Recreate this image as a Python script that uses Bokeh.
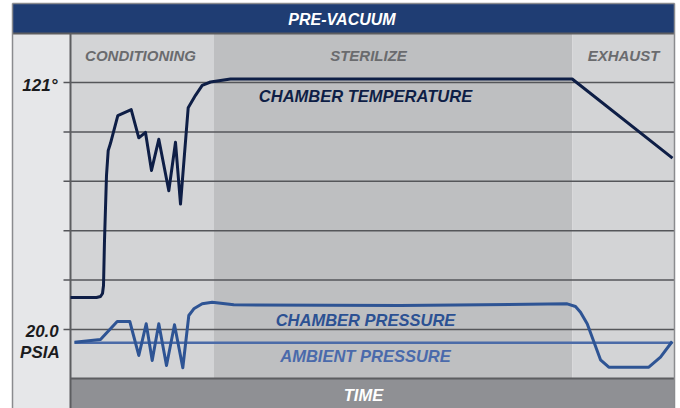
from bokeh.plotting import figure
from bokeh.models import Range1d
from bokeh.core.properties import value
from bokeh.embed import file_html
from bokeh.resources import INLINE

# ---- data (x: time units, y: grid units; 0 = 20.0 PSIA line, 5 = 121° line) ----
phase_names = ["CONDITIONING", "STERILIZE", "EXHAUST"]
phase_start = [0.0, 14.3, 50.2]
phase_end = [14.3, 50.2, 60.4]

grid_levels = [0, 1, 2, 3, 4, 5]
tick_labels = {5: "121°", 0: "20.0"}

temp_t = [0, 2.6, 3.0, 3.2, 3.3, 3.4, 3.6, 3.77, 4.0, 4.73, 6.07, 6.83, 7.5, 8.1,
          8.83, 9.83, 10.5, 11.0, 11.77, 12.5, 13.17, 14.0, 16.0, 50.17, 60.2]
temp_v = [0.648, 0.648, 0.668, 0.729, 0.891, 1.80, 3.12, 3.62, 3.77, 4.33, 4.45,
          3.88, 3.99, 3.22, 3.85, 2.81, 3.79, 2.54, 4.49, 4.74, 4.94, 5.01, 5.07,
          5.07, 3.47]

press_t = [0.4, 3.0, 4.67, 5.93, 6.83, 7.57, 8.17, 8.83, 9.6, 10.4, 11.23, 11.83,
           12.33, 13.17, 14.17, 16.33, 33.0, 49.67, 50.5, 51.0, 51.67, 53.0, 53.83,
           57.83, 59.0, 60.17]
press_v = [-0.257, -0.202, 0.162, 0.162, -0.526, 0.115, -0.628, 0.115, -0.729,
           0.095, -0.775, 0.283, 0.419, 0.520, 0.553, 0.500, 0.486, 0.520, 0.466,
           0.350, 0.115, -0.613, -0.763, -0.763, -0.561, -0.243]

ambient_t = [0.4, 60.2]
ambient_v = [-0.269, -0.269]

# ---- layout constants (1 grid unit = 49.4 px, 1 time unit = 10 px) ----
U = 49.4
def py(pix):
    return (329 - pix) / U

TXT = 6  # text baseline correction (px)
def ty(pix):
    return py(pix - TXT)

X0, X1 = -7.0, 61.0
Y0, Y1 = py(408), py(0)
TOP = py(33)          # top of plotting area
BOT = py(378)         # bottom of plotting area
FTOP = py(3)          # top of frame
LEFT = -5.8           # left edge of frame
RIGHT = 60.4          # right edge of frame

FONT = value("Liberation Sans")
STYLE = dict(text_font=FONT, text_font_style="bold italic", text_baseline="alphabetic")

p = figure(width=680, height=408, output_backend="svg", toolbar_location=None,
           x_range=Range1d(X0, X1), y_range=Range1d(Y0, Y1),
           min_border=0, min_border_left=0, min_border_right=0,
           min_border_top=0, min_border_bottom=0)
p.axis.visible = False
p.grid.visible = False
p.outline_line_color = None
p.background_fill_color = "white"
p.border_fill_color = "white"

# frame pieces
p.quad(left=[LEFT], right=[RIGHT], bottom=[TOP], top=[FTOP], fill_color="#1f3d73", line_color=None)
p.quad(left=[LEFT], right=[0], bottom=[Y0], top=[TOP], fill_color="#e6e7e9", line_color=None)
p.quad(left=[0], right=[RIGHT], bottom=[Y0], top=[BOT], fill_color="#8f9094", line_color=None)
phase_colors = ["#d3d4d6", "#bebfc1", "#d3d4d6"]
p.quad(left=phase_start, right=phase_end, bottom=BOT, top=TOP,
       fill_color=phase_colors, line_color=None)

# gridlines
p.segment(x0=-0.7, x1=RIGHT, y0=grid_levels, y1=grid_levels, line_color="#55565a", line_width=1.5)

# separators
p.segment(x0=[0, 0, LEFT], x1=[RIGHT, 0, RIGHT], y0=[BOT, Y0, TOP], y1=[BOT, TOP, TOP],
          line_color="#5c5d60", line_width=2)
# outer border
p.segment(x0=[LEFT, LEFT, RIGHT], x1=[LEFT, RIGHT, RIGHT], y0=[Y0, FTOP, Y0], y1=[FTOP, FTOP, FTOP],
          line_color="#8a8b8e", line_width=1.5)

# curves
p.line(ambient_t, ambient_v, line_color="#4b6ba8", line_width=2.5)
p.line(press_t, press_v, line_color="#2e5494", line_width=3, line_join="round")
p.line(temp_t, temp_v, line_color="#0e1e46", line_width=3, line_join="round")

# phase labels
p.text(x=[7.0, 29.8, 55.3], y=ty(61), text=phase_names, text_font_size="15px",
       text_color="#6a6b6e", text_align="center", **STYLE)

# series labels
p.text(x=[29.5], y=[ty(101.7)], text=["CHAMBER TEMPERATURE"], text_font_size="16.5px",
       text_color="#0e1e46", text_align="center", **STYLE)
p.text(x=[29.5], y=[ty(325.7)], text=["CHAMBER PRESSURE"], text_font_size="16.5px",
       text_color="#2c5193", text_align="center", **STYLE)
p.text(x=[29.5], y=[ty(361.7)], text=["AMBIENT PRESSURE"], text_font_size="16.5px",
       text_color="#4a6aab", text_align="center", **STYLE)

# tick labels
p.text(x=[-1.3, -1.17], y=[ty(90.7), ty(336.7)], text=[tick_labels[5], tick_labels[0]],
       text_font_size="17px", text_color="#1b1b1d", text_align="right", **STYLE)
p.text(x=[-1.07], y=[ty(358.3)], text=["PSIA"], text_font_size="17px",
       text_color="#1b1b1d", text_align="right", **STYLE)

# title and x label
p.text(x=[27.15], y=[ty(25)], text=["PRE-VACUUM"], text_font_size="16px",
       text_color="white", text_align="center", **STYLE)
p.text(x=[29.3], y=[ty(400)], text=["TIME"], text_font_size="16.5px",
       text_color="white", text_align="center", **STYLE)

open("out.html", "w").write(file_html(p, INLINE))
